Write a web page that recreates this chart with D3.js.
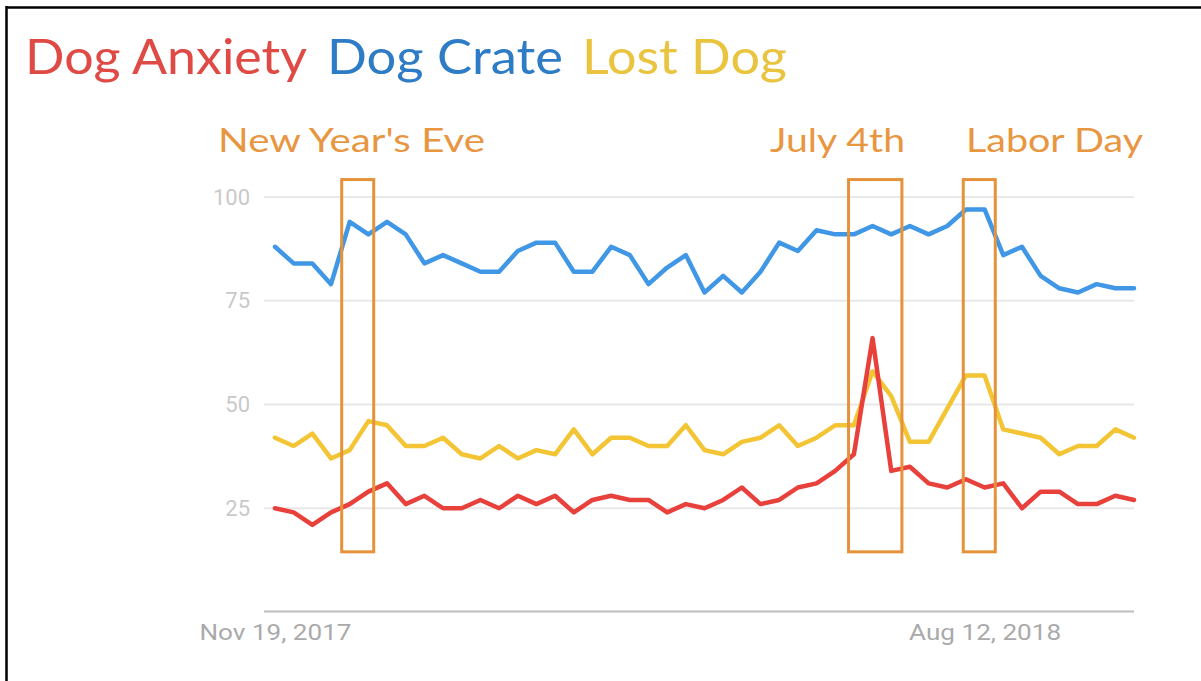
<!DOCTYPE html>
<html>
<head>
<meta charset="utf-8">
<script src="https://cdn.jsdelivr.net/npm/d3@7"></script>
<style>
  html, body { margin: 0; padding: 0; background: #fff; }
  svg { display: block; }
</style>
</head>
<body>
<svg id="chart" width="1201" height="681"></svg>
<script>
// ---------- data ----------
const startDate = new Date(2017, 10, 19); // Nov 19, 2017 (weekly points)
const seriesNames = ["Dog Anxiety", "Dog Crate", "Lost Dog"];
const dogAnxiety = [25,24,21,24,26,29,31,26,28,25,25,27,25,28,26,28,
                    24,27,28,27,27,24,26,25,27,30,26,27,30,31,34,38,
                    66,34,35,31,30,32,30,31,25,29,29,26,26,28,27];
const dogCrate   = [88,84,84,79,94,91,94,91,84,86,84,82,82,87,89,89,
                    82,82,88,86,79,83,86,77,81,77,82,89,87,92,91,91,
                    93,91,93,91,93,97,97,86,88,81,78,77,79,78,78];
const lostDog    = [42,40,43,37,39,46,45,40,40,42,38,37,40,37,39,38,
                    44,38,42,42,40,40,45,39,38,41,42,45,40,42,45,45,
                    58,52,41,41,49,57,57,44,43,42,38,40,40,44,42];
const yTicks = [25, 50, 75, 100];
const xTickLabels = ["Nov 19, 2017", "Aug 12, 2018"];
const xTickWeeks = [0, 38];
const eventNames = ["New Year's Eve", "July 4th", "Labor Day"];
const eventWeekStart = [3.6, 30.7, 36.8];
const eventWeekEnd   = [5.3, 33.6, 38.5];

// ---------- styling ----------
const lineColors  = ["#e8413b", "#4097e5", "#f3c433"];
const titleColors = ["#df4a45", "#2f7cc6", "#eac33f"];
const boxColor = "#e6923a";
const textOrange = "#e8963f";

const svg = d3.select("#chart");

const weekDate = i => d3.timeDay.offset(startDate, Math.round(7 * i));
const dates = dogAnxiety.map((_, i) => weekDate(i));

const x = d3.scaleTime()
  .domain([dates[0], dates[dates.length - 1]])
  .range([275, 1134]);
const y = d3.scaleLinear().domain([0, 100]).range([612, 197]);

// border (top + left)
svg.append("line").attr("x1", 6).attr("x2", 1201).attr("y1", 7.5).attr("y2", 7.5)
  .attr("stroke", "#000").attr("stroke-width", 2.5);
svg.append("line").attr("x1", 6.5).attr("x2", 6.5).attr("y1", 6).attr("y2", 681)
  .attr("stroke", "#000").attr("stroke-width", 2.5);

// title legend
const titleX = [25, 327, 582];
const titleW = [282, 236, 205];
svg.selectAll("text.title").data(seriesNames).join("text")
  .attr("class", "title")
  .attr("x", (d, i) => titleX[i]).attr("y", 74)
  .attr("textLength", (d, i) => titleW[i]).attr("lengthAdjust", "spacingAndGlyphs")
  .attr("font-family", "Lato, 'Open Sans', sans-serif")
  .attr("font-size", 48)
  .attr("fill", (d, i) => titleColors[i])
  .text(d => d);

// gridlines
svg.append("g").selectAll("line").data(yTicks).join("line")
  .attr("x1", 264).attr("x2", 1134)
  .attr("y1", d => y(d)).attr("y2", d => y(d))
  .attr("stroke", "#e8e8e8").attr("stroke-width", 2);

// y axis labels
const yAxis = d3.axisLeft(y).tickValues(yTicks).tickSize(0).tickPadding(0);
const gy = svg.append("g").attr("transform", "translate(250,0)").call(yAxis);
gy.select(".domain").remove();
gy.selectAll("text")
  .attr("font-family", "Roboto, sans-serif")
  .attr("font-size", 22)
  .attr("fill", "#c9c9c9");

// x axis
const xAxis = d3.axisBottom(x)
  .tickValues(xTickWeeks.map(weekDate))
  .tickFormat((d, i) => xTickLabels[i])
  .tickSize(0).tickPadding(13);
const gx = svg.append("g").attr("transform", "translate(0,611.5)").call(xAxis);
gx.select(".domain").remove();
gx.append("line").attr("x1", 264).attr("x2", 1134).attr("y1", 0).attr("y2", 0)
  .attr("stroke", "#bdbdbd").attr("stroke-width", 2);
gx.selectAll(".tick text")
  .attr("font-family", "Roboto, sans-serif")
  .attr("font-size", 22)
  .attr("fill", "#aaaaaa")
  .attr("textLength", 152).attr("lengthAdjust", "spacingAndGlyphs");

// lines
const series = [dogAnxiety, dogCrate, lostDog];
const line = d3.line().x((d, i) => x(dates[i])).y(d => y(d));
const drawOrder = [1, 2, 0];
drawOrder.forEach(si => {
  svg.append("path")
    .datum(series[si])
    .attr("d", line)
    .attr("fill", "none")
    .attr("stroke", lineColors[si])
    .attr("stroke-width", 4.5)
    .attr("stroke-linejoin", "round")
    .attr("stroke-linecap", "round");
});

// event boxes
const boxTop = 104.2, boxBottom = 14.5;
svg.append("g").selectAll("rect").data(eventNames).join("rect")
  .attr("x", (d, i) => x(weekDate(eventWeekStart[i])))
  .attr("width", (d, i) => x(weekDate(eventWeekEnd[i])) - x(weekDate(eventWeekStart[i])))
  .attr("y", y(boxTop))
  .attr("height", y(boxBottom) - y(boxTop))
  .attr("fill", "none")
  .attr("stroke", boxColor)
  .attr("stroke-width", 3);

// event labels
const labelX = [218, 770, 966];
const labelW = [267, 135, 177];
svg.append("g").selectAll("text").data(eventNames).join("text")
  .attr("x", (d, i) => labelX[i]).attr("y", 152)
  .attr("textLength", (d, i) => labelW[i]).attr("lengthAdjust", "spacingAndGlyphs")
  .attr("font-family", "Lato, 'Open Sans', sans-serif")
  .attr("font-size", 33)
  .attr("fill", textOrange)
  .text(d => d);
</script>
</body>
</html>
